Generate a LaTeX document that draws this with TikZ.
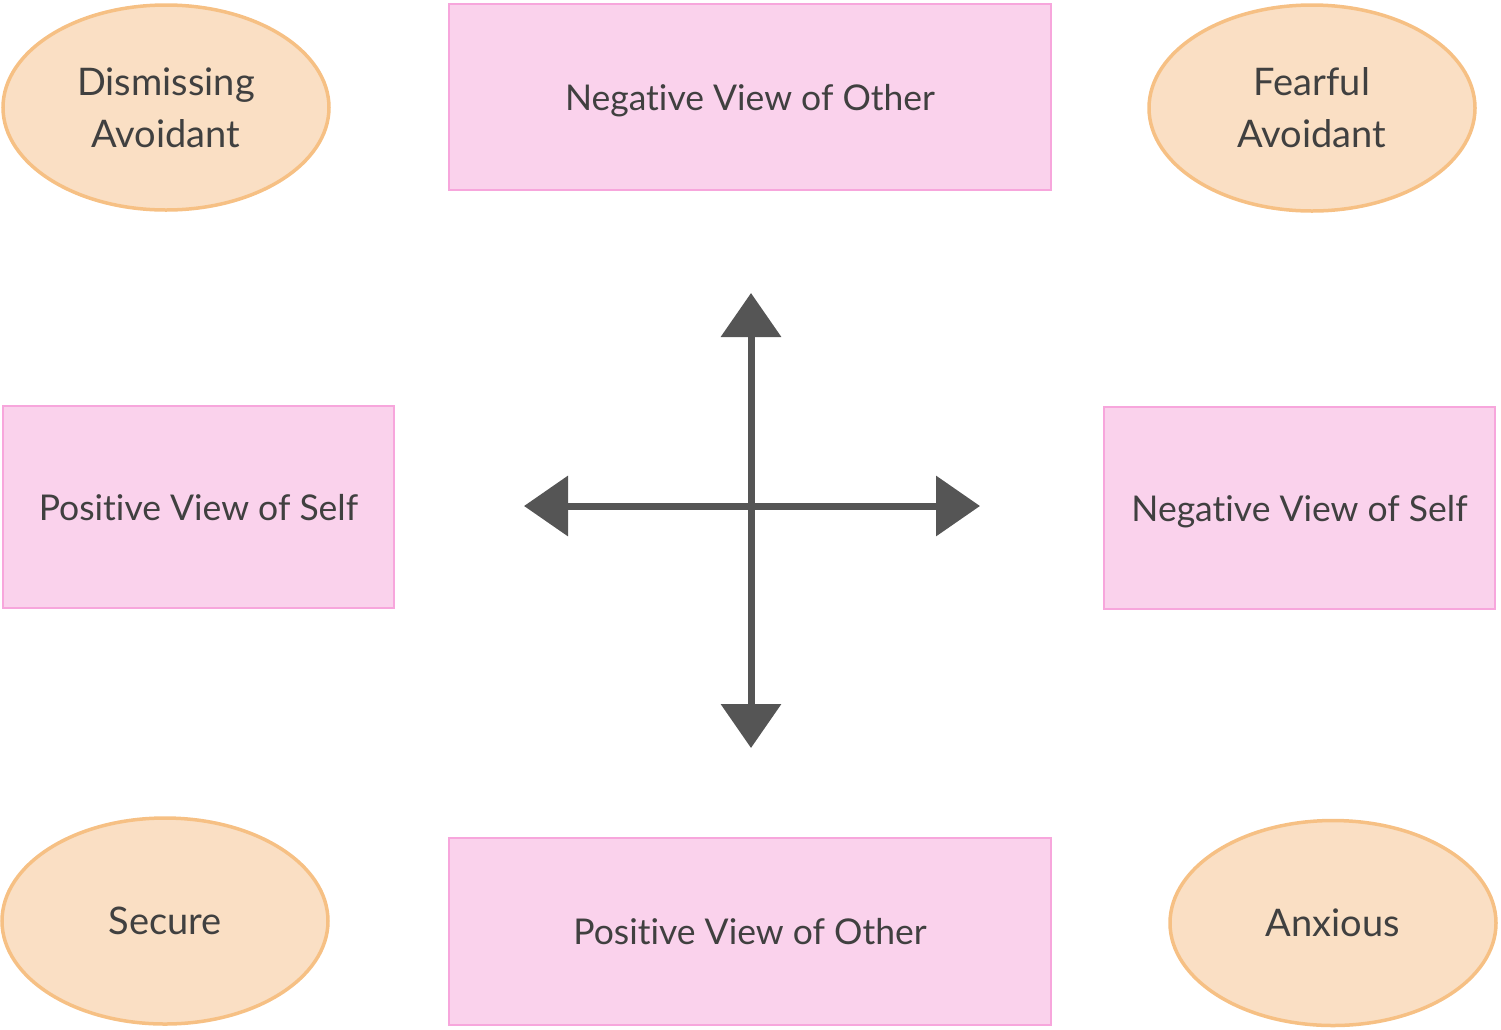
\documentclass[tikz,border=0pt]{standalone}
\usepackage{fontspec}
\setmainfont[Ligatures={NoCommon,NoRare,NoContextual},RawFeature={-liga,-clig,-dlig}]{Lato}
\usetikzlibrary{shapes.geometric,arrows.meta}
\definecolor{rectfill}{HTML}{FAD2EC}
\definecolor{rectdraw}{HTML}{F7A6DC}
\definecolor{ellfill}{HTML}{FADFC4}
\definecolor{elldraw}{HTML}{F6C084}
\definecolor{txt}{HTML}{404040}
\definecolor{arr}{HTML}{555555}
\tikzset{
  viewbox/.style={draw=rectdraw, fill=rectfill, line width=2.5pt, text=txt,
    font=\fontsize{35.5}{46}\selectfont, inner sep=0pt,
    text height=32pt, text depth=6pt},
  stylebox/.style={ellipse, draw=elldraw, fill=ellfill, line width=3.5pt, text=txt,
    font=\fontsize{38}{52}\selectfont, align=center, inner sep=0pt},
  axis/.style={draw=arr, line width=7pt,
    -{Triangle[length=44pt,width=59pt]}, shorten >=0pt}
}
\begin{document}
\begin{tikzpicture}[x=1pt,y=-1pt]
\useasboundingbox (0,0) rectangle (1501,1029);
% rectangles
\node[viewbox, minimum width=602pt, minimum height=186pt] (nvo) at (750,97) {Negative View of Other};
\node[viewbox, minimum width=602pt, minimum height=187pt] (pvo) at (750,931.5) {Positive View of Other};
\node[viewbox, minimum width=391pt, minimum height=202pt] (pvs) at (198.5,507) {Positive View of Self};
\node[viewbox, minimum width=391pt, minimum height=202pt] (nvs) at (1299.5,508) {Negative View of Self};
% ellipses
\node[stylebox, minimum width=326pt, minimum height=205pt] (da) at (166,107.5) {Dismissing\\Avoidant};
\node[stylebox, minimum width=326pt, minimum height=206pt] (fa) at (1312,108) {Fearful\\Avoidant};
\node[stylebox, minimum width=326pt, minimum height=206pt] (se) at (165,921) {Secure};
\node[stylebox, minimum width=326pt, minimum height=205pt] (an) at (1333,923) {Anxious};
% axes
\coordinate (c) at (751,506);
\coordinate (up) at (751,293);
\coordinate (dn) at (751,748);
\coordinate (lf) at (524,506);
\coordinate (rt) at (980,506);
\draw[axis] (c) -- (up);
\draw[axis] (c) -- (dn);
\draw[axis] (c) -- (lf);
\draw[axis] (c) -- (rt);
\end{tikzpicture}
\end{document}
